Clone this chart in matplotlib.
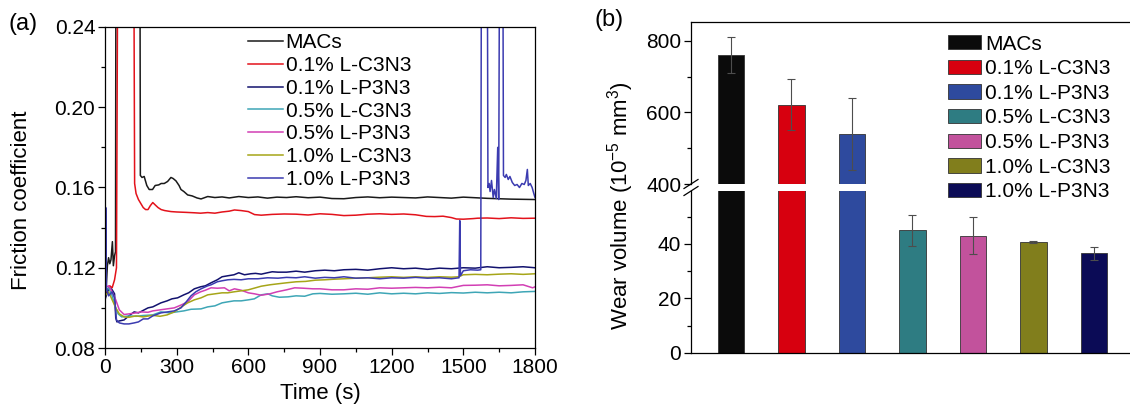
import matplotlib
matplotlib.use("Agg")
import matplotlib.pyplot as plt
from matplotlib.ticker import MultipleLocator

plt.rcParams['font.family'] = ['Liberation Sans', 'DejaVu Sans']
plt.rcParams['axes.linewidth'] = 0.9
plt.rcParams['mathtext.default'] = 'regular'

# ---- (a) friction coefficient vs time ----
labels = ['MACs', '0.1% L-C3N3', '0.1% L-P3N3', '0.5% L-C3N3',
          '0.5% L-P3N3', '1.0% L-C3N3', '1.0% L-P3N3']
line_colors = ['#1a1a1a', '#e3121b', '#12126e', '#3ea6b6',
               '#d23fb4', '#a6a518', '#3b3bb0']

t_macs = [0, 5, 10, 15, 20, 25, 31, 35, 40, 44, 46, 146, 148, 155, 164, 175, 185, 199, 210,
          225, 235, 248, 262, 276, 285, 297, 310, 318, 330, 346, 365, 385, 402, 430, 460,
          490, 520, 560, 600, 640, 680, 720, 760, 800, 850, 900, 950, 1000, 1050, 1100,
          1150, 1200, 1250, 1300, 1350, 1400, 1450, 1500, 1550, 1600, 1650, 1700, 1750, 1800]
f_macs = [0.104, 0.110, 0.121, 0.125, 0.122, 0.124, 0.133, 0.121, 0.126, 0.128, 0.300, 0.300,
          0.166, 0.165, 0.1655, 0.161, 0.159, 0.159, 0.161, 0.1613, 0.162, 0.162, 0.163, 0.165,
          0.1645, 0.1633, 0.161, 0.159, 0.158, 0.1563, 0.1558, 0.1548, 0.1543, 0.1555, 0.155,
          0.1553, 0.1548, 0.1555, 0.155, 0.1553, 0.1547, 0.1552, 0.155, 0.1554, 0.1549, 0.1552,
          0.1545, 0.1544, 0.155, 0.1553, 0.1549, 0.1552, 0.155, 0.1548, 0.1553, 0.155, 0.1547,
          0.1552, 0.1549, 0.1546, 0.1544, 0.1542, 0.1541, 0.154]

t_lc01 = [0, 10, 20, 30, 40, 48, 54, 120, 124, 130, 140, 150, 160, 170, 180, 190, 200, 213,
          222, 235, 250, 276, 300, 340, 374, 400, 430, 460, 490, 520, 542, 570, 600, 626, 654,
          700, 750, 800, 850, 900, 950, 1000, 1050, 1100, 1150, 1200, 1250, 1300, 1345, 1380,
          1415, 1450, 1471, 1500, 1541, 1560, 1600, 1650, 1700, 1750, 1800]
f_lc01 = [0.105, 0.109, 0.111, 0.110, 0.114, 0.120, 0.300, 0.300, 0.162, 0.157, 0.154, 0.152,
          0.150, 0.149, 0.149, 0.151, 0.1525, 0.151, 0.150, 0.149, 0.1485, 0.148, 0.1478,
          0.1476, 0.1474, 0.1472, 0.1475, 0.1472, 0.1478, 0.1482, 0.1488, 0.1485, 0.148,
          0.1465, 0.1462, 0.1466, 0.1468, 0.1467, 0.1463, 0.1469, 0.1466, 0.146, 0.1462, 0.1467,
          0.1469, 0.1466, 0.1468, 0.1464, 0.1456, 0.1455, 0.1457, 0.145, 0.1443, 0.1442,
          0.1445, 0.1447, 0.1448, 0.1445, 0.1449, 0.1446, 0.1447]

t_lp01 = [0, 10, 20, 30, 40, 45, 50, 60, 80, 100, 122, 140, 164, 180, 200, 234, 260, 280, 304,
          330, 350, 374, 400, 420, 444, 470, 490, 514, 540, 560, 584, 610, 630, 654, 680, 700,
          724, 760, 800, 836, 880, 920, 960, 1000, 1050, 1100, 1150, 1200, 1250, 1300, 1350,
          1400, 1450, 1500, 1550, 1600, 1650, 1700, 1750, 1800]
f_lp01 = [0.104, 0.108, 0.110, 0.109, 0.107, 0.095, 0.093, 0.0935, 0.094, 0.096, 0.098, 0.0975,
          0.099, 0.100, 0.1005, 0.1025, 0.1035, 0.1045, 0.105, 0.1065, 0.1075, 0.1095, 0.1105,
          0.111, 0.1125, 0.114, 0.1155, 0.116, 0.1165, 0.1175, 0.1165, 0.117, 0.1172, 0.1168,
          0.1175, 0.118, 0.1178, 0.1178, 0.1183, 0.1178, 0.1185, 0.1188, 0.1185, 0.119, 0.1192,
          0.1188, 0.1195, 0.120, 0.1195, 0.1198, 0.1192, 0.1198, 0.1195, 0.120, 0.1198, 0.1205,
          0.120, 0.1202, 0.1205, 0.120]

t_lc05 = [0, 15, 30, 45, 55, 70, 100, 130, 160, 200, 234, 270, 300, 330, 360, 402, 430, 460,
          490, 514, 540, 570, 600, 625, 654, 682, 700, 730, 766, 800, 836, 870, 900, 950, 1000,
          1050, 1100, 1150, 1200, 1250, 1300, 1350, 1400, 1450, 1500, 1550, 1600, 1650, 1700,
          1750, 1800]
f_lc05 = [0.108, 0.110, 0.106, 0.100, 0.097, 0.0955, 0.096, 0.0958, 0.0962, 0.0965, 0.098,
          0.0975, 0.098, 0.0985, 0.0993, 0.0995, 0.1005, 0.101, 0.1025, 0.103, 0.1035, 0.1035,
          0.104, 0.1045, 0.1065, 0.107, 0.106, 0.1053, 0.1055, 0.106, 0.1058, 0.107, 0.1072,
          0.1068, 0.107, 0.1073, 0.1068, 0.1075, 0.107, 0.1073, 0.107, 0.1075, 0.1072, 0.1076,
          0.1074, 0.1078, 0.1075, 0.1078, 0.1075, 0.108, 0.1082]

t_lp05 = [0, 15, 30, 45, 60, 80, 100, 130, 150, 180, 200, 230, 260, 290, 320, 346, 374, 400,
          420, 444, 470, 500, 520, 542, 570, 600, 626, 654, 690, 720, 760, 794, 830, 870, 900,
          950, 1000, 1050, 1100, 1150, 1200, 1250, 1300, 1350, 1400, 1450, 1500, 1550, 1600,
          1650, 1700, 1750, 1790, 1800]
f_lp05 = [0.110, 0.111, 0.108, 0.104, 0.099, 0.0967, 0.097, 0.0975, 0.098, 0.0978, 0.0985,
          0.099, 0.0995, 0.100, 0.1015, 0.103, 0.1065, 0.108, 0.1088, 0.110, 0.1098, 0.110,
          0.1085, 0.1095, 0.1088, 0.1075, 0.107, 0.1063, 0.107, 0.108, 0.109, 0.110, 0.1098,
          0.1095, 0.1095, 0.109, 0.109, 0.1095, 0.1093, 0.110, 0.1098, 0.110, 0.1102, 0.110,
          0.1103, 0.110, 0.1112, 0.1113, 0.1115, 0.111, 0.1112, 0.1115, 0.110, 0.1105]

t_lc10 = [0, 15, 30, 45, 60, 80, 100, 130, 160, 199, 230, 260, 290, 320, 346, 374, 402, 430,
          460, 490, 514, 540, 570, 600, 630, 654, 690, 724, 760, 800, 840, 880, 920, 960, 1000,
          1050, 1100, 1150, 1200, 1250, 1300, 1350, 1400, 1450, 1480, 1500, 1550, 1600, 1650,
          1700, 1750, 1800]
f_lc10 = [0.106, 0.108, 0.104, 0.100, 0.097, 0.0955, 0.0953, 0.096, 0.0955, 0.0963, 0.0958,
          0.0965, 0.098, 0.1005, 0.1025, 0.104, 0.105, 0.1065, 0.107, 0.1075, 0.1075, 0.108,
          0.1085, 0.109, 0.110, 0.1108, 0.1115, 0.112, 0.1125, 0.113, 0.1132, 0.1138, 0.114,
          0.1143, 0.1145, 0.1148, 0.115, 0.1153, 0.1155, 0.1152, 0.1155, 0.1152, 0.1155, 0.1153,
          0.1155, 0.1165, 0.1167, 0.1165, 0.1168, 0.117, 0.1167, 0.117]

t_lp10 = [0, 3, 6, 15, 30, 40, 48, 60, 80, 100, 122, 140, 160, 180, 200, 234, 262, 290, 318,
          340, 360, 380, 402, 430, 444, 470, 490, 514, 540, 570, 600, 640, 680, 724, 760, 800,
          836, 880, 920, 960, 1000, 1050, 1100, 1150, 1200, 1250, 1300, 1350, 1400, 1450,
          1482, 1485, 1488, 1500, 1530, 1560, 1573, 1576, 1600, 1603, 1608, 1612, 1618, 1625,
          1630, 1638, 1644, 1648, 1652, 1665, 1668, 1675, 1680, 1688, 1695, 1705, 1715, 1725,
          1735, 1745, 1755, 1762, 1768, 1772, 1780, 1788, 1795, 1800]
f_lp10 = [0.080, 0.150, 0.110, 0.106, 0.108, 0.105, 0.094, 0.0925, 0.092, 0.092, 0.0925,
          0.093, 0.0945, 0.0945, 0.096, 0.0975, 0.098, 0.0985, 0.100, 0.103, 0.106, 0.108,
          0.1095, 0.111, 0.1115, 0.113, 0.1135, 0.114, 0.1142, 0.114, 0.1145, 0.1145, 0.115,
          0.1148, 0.1152, 0.115, 0.1155, 0.1148, 0.1152, 0.115, 0.1155, 0.1148, 0.115, 0.1145,
          0.115, 0.1148, 0.1152, 0.1148, 0.115, 0.1145, 0.115, 0.1435, 0.116, 0.1185, 0.119,
          0.1188, 0.119, 0.300, 0.300, 0.160, 0.162, 0.158, 0.1635, 0.155, 0.159, 0.1545, 0.180,
          0.154, 0.300, 0.300, 0.166, 0.165, 0.1665, 0.164, 0.1655, 0.1625, 0.161, 0.1615,
          0.160, 0.162, 0.1615, 0.1635, 0.169, 0.161, 0.162, 0.160, 0.157, 0.155]

times = [t_macs, t_lc01, t_lp01, t_lc05, t_lp05, t_lc10, t_lp10]
fricts = [f_macs, f_lc01, f_lp01, f_lc05, f_lp05, f_lc10, f_lp10]

# ---- (b) wear volume ----
wear = [760, 622, 540, 45, 43, 40.8, 36.5]
wear_err = [50, 70, 100, 5.7, 6.7, 0.4, 2.3]
bar_colors = ['#0b0b0b', '#d7000f', '#2e4a9e', '#2e7c82', '#c2529c', '#817e1c', '#0b0b56']

W, H = 1130, 411
fig = plt.figure(figsize=(W / 100, H / 100), dpi=100)

def px(l, t, r, b):
    return [l / W, 1 - b / H, (r - l) / W, (b - t) / H]

fs = 15

# panel a
ax = fig.add_axes(px(105, 27, 535, 348))
for tt, ff, c, lab in zip(times, fricts, line_colors, labels):
    ax.plot(tt, ff, color=c, lw=1.1, label=lab)
ax.set_xlim(0, 1800)
ax.set_ylim(0.08, 0.24)
ax.xaxis.set_major_locator(MultipleLocator(300))
ax.xaxis.set_minor_locator(MultipleLocator(150))
ax.yaxis.set_major_locator(MultipleLocator(0.04))
ax.yaxis.set_minor_locator(MultipleLocator(0.02))
ax.yaxis.set_major_formatter(plt.FuncFormatter(lambda v, p: f'{v:.2f}'))
ax.tick_params(which='major', direction='out', length=5, width=0.9, labelsize=fs, pad=2)
ax.tick_params(which='minor', direction='out', length=3, width=0.9)
ax.legend(loc='upper left', bbox_to_anchor=((248 - 105) / 430, 0.98), frameon=False,
          fontsize=fs, handlelength=1.7, handletextpad=0.1, labelspacing=0.18,
          borderpad=0, borderaxespad=0)
fig.text(22 / W, 1 - 200 / H, 'Friction coefficient', rotation=90, ha='center',
         va='center', fontsize=16)
fig.text(320 / W, 1 - 393 / H, 'Time (s)', ha='center', va='center', fontsize=16)
fig.text(8 / W, 1 - 24 / H, '(a)', ha='left', va='center', fontsize=17)

# panel b with broken y axis
x = list(range(len(wear)))
ax_top = fig.add_axes(px(691, 22.5, 1130, 184))
ax_bot = fig.add_axes(px(691, 191, 1130, 353))
ax_top.set_zorder(3)
ax_top.set_facecolor('none')
for a in (ax_top, ax_bot):
    a.bar(x, wear, width=0.43, color=bar_colors, edgecolor='#333333', linewidth=0.6)
    a.errorbar(x, wear, yerr=wear_err, fmt='none', ecolor='#4d4d4d', elinewidth=0.8,
               capsize=3, capthick=0.8)
    a.set_xlim(-0.661, 6.595)
    a.spines['right'].set_visible(False)
    a.set_xticks([])
    a.tick_params(which='major', direction='out', length=5, width=0.9, labelsize=fs, pad=2)
    a.tick_params(which='minor', direction='out', length=3, width=0.9)
ax_top.set_ylim(400, 851)
ax_top.yaxis.set_major_locator(MultipleLocator(200))
ax_top.yaxis.set_minor_locator(MultipleLocator(100))
ax_top.spines['bottom'].set_visible(False)
ax_bot.set_ylim(0, 59.4)
ax_bot.set_yticks([0, 20, 40])
ax_bot.set_yticks([10, 30, 50], minor=True)
ax_bot.spines['top'].set_visible(False)

# break marks on the y axis
kw = dict(color='k', lw=0.9, clip_on=False)
dx = 7 / 439
ax_top.plot([-dx, dx], [-4.5 / 161.5, 4.5 / 161.5], transform=ax_top.transAxes, **kw)
ax_bot.plot([-dx, dx], [1 - 4.5 / 162, 1 + 4.5 / 162], transform=ax_bot.transAxes, **kw)

handles = [plt.Rectangle((0, 0), 1, 1, facecolor=c, edgecolor='#333333', linewidth=0.6)
           for c in bar_colors]
ax_top.legend(handles, labels, loc='upper left', bbox_to_anchor=((948 - 691) / 439, 0.925),
              frameon=False, fontsize=fs, handlelength=1.57, handleheight=0.67,
              handletextpad=0.2, labelspacing=0.27, borderpad=0, borderaxespad=0)

fig.text(621 / W, 1 - 206 / H, 'Wear volume (10$^{-5}$ mm$^{3}$)', rotation=90,
         ha='center', va='center', fontsize=16)
fig.text(595 / W, 1 - 20 / H, '(b)', ha='left', va='center', fontsize=17)

fig.savefig('out.png', dpi=100)
